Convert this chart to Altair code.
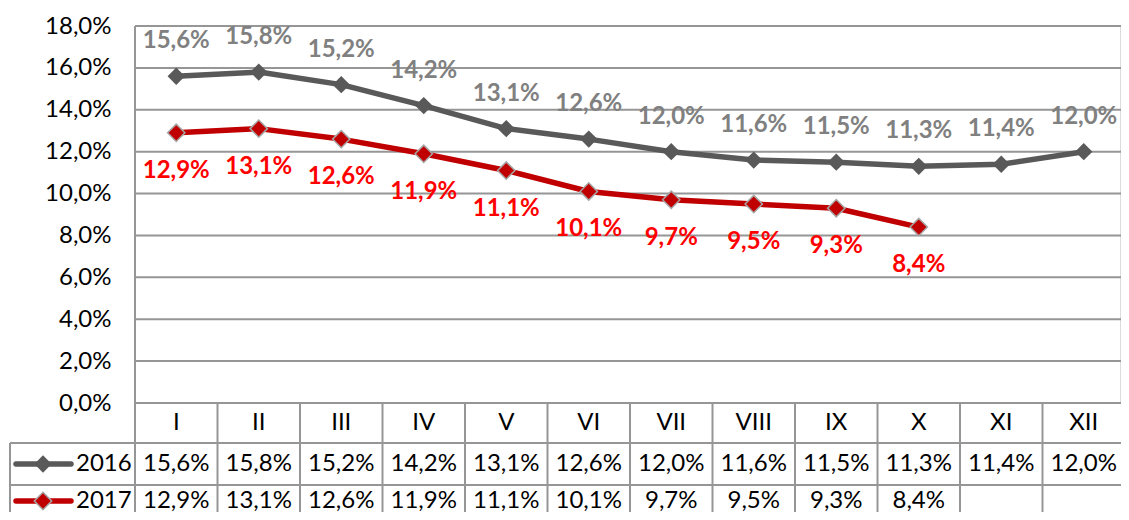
import altair as alt
import pandas as pd

# ---------------- data ----------------
months = ["I", "II", "III", "IV", "V", "VI", "VII", "VIII", "IX", "X", "XI", "XII"]
series = ["2016", "2017"]
values_2016 = [15.6, 15.8, 15.2, 14.2, 13.1, 12.6, 12.0, 11.6, 11.5, 11.3, 11.4, 12.0]
values_2017 = [12.9, 13.1, 12.6, 11.9, 11.1, 10.1, 9.7, 9.5, 9.3, 8.4]
y_ticks = [0, 2, 4, 6, 8, 10, 12, 14, 16, 18]

rows = []
for m, v in zip(months, values_2016):
    rows.append({"month": m, "value": v, "series": "2016"})
for m, v in zip(months, values_2017):
    rows.append({"month": m, "value": v, "series": "2017"})
df = pd.DataFrame(rows)
months_df = pd.DataFrame({"month": months})
ticks_df = pd.DataFrame({"value": y_ticks})

# ---------------- style ----------------
W, H = 985, 377          # visible plot width (svg must fit the window)
XR = 990                 # full x range of the (partly cropped) plot
STEP = XR / 12
FONT = "Lato"
FS = 24
GRID = "#969696"
LINE_COL = {"2016": "#595959", "2017": "#C00000"}
LABEL_COL = {"2016": "#808080", "2017": "#FF0000"}
ROW_Y = {"2016": 438, "2017": 475}
LABEL_DY = {"2016": -35, "2017": 38}
fmt = "replace(format(datum.value, '.1f'), '.', ',') + '%'"

x_enc = alt.X("month:N", sort=months,
              scale=alt.Scale(type="point", padding=0.5, domain=months, range=[0, XR]),
              axis=None)
y_scale = alt.Scale(domain=[0, 18], nice=False, zero=True)
y_enc = alt.Y("value:Q", scale=y_scale,
              axis=alt.Axis(values=y_ticks, labelExpr=fmt, grid=False,
                            domain=False, ticks=False, labelPadding=24,
                            labelFont=FONT, labelFontSize=FS, labelColor="#000000",
                            title=None))

base = alt.Chart(df).transform_calculate(label=fmt)

layers = []

# horizontal gridlines (through the y scale)
layers.append(alt.Chart(ticks_df).mark_rule(color=GRID, strokeWidth=2).encode(
    x=alt.value(0), x2=alt.value(XR + 10), y=y_enc))

# table / frame lines
one = pd.DataFrame({"k": [0]})
layers.append(alt.Chart(one).mark_rule(color=GRID, strokeWidth=2).encode(
    x=alt.value(0), y=alt.value(0), y2=alt.value(520)))
layers.append(alt.Chart(one).mark_rule(color=GRID, strokeWidth=2).encode(
    x=alt.value(-125), y=alt.value(417), y2=alt.value(520)))
for yy in (417, 459):
    layers.append(alt.Chart(one).mark_rule(color=GRID, strokeWidth=2).encode(
        x=alt.value(-125), x2=alt.value(XR + 10), y=alt.value(yy)))
layers.append(alt.Chart(months_df).mark_rule(color=GRID, strokeWidth=2, xOffset=STEP / 2).encode(
    x=x_enc, y=alt.value(H), y2=alt.value(520)))

# header month labels
layers.append(alt.Chart(months_df).mark_text(font=FONT, fontSize=FS, color="#000000",
                                             baseline="middle").encode(
    x=x_enc, y=alt.value(397), text="month:N"))

for s in series:
    sub = base.transform_filter(alt.datum.series == s)
    layers.append(sub.mark_line(color=LINE_COL[s], strokeWidth=5.5, strokeCap="round",
                                strokeJoin="round").encode(x=x_enc, y=y_enc))
    if s == "2016":
        pt = sub.mark_point(shape="diamond", filled=True, size=300, opacity=1,
                            color=LINE_COL[s])
    else:
        pt = sub.mark_point(shape="diamond", filled=True, size=300, opacity=1,
                            fill=LINE_COL[s], stroke="#A6A6A6", strokeWidth=1.5)
    layers.append(pt.encode(x=x_enc, y=y_enc))
    layers.append(sub.mark_text(font=FONT, fontSize=FS, fontWeight="bold",
                                color=LABEL_COL[s], dy=LABEL_DY[s],
                                baseline="middle").encode(x=x_enc, y=y_enc, text="label:N"))
    # table values
    layers.append(sub.mark_text(font=FONT, fontSize=FS, color="#000000",
                                baseline="middle").encode(
        x=x_enc, y=alt.value(ROW_Y[s]), text="label:N"))
    # legend cell
    leg = alt.Chart(pd.DataFrame({"series": [s]}))
    layers.append(leg.mark_rule(color=LINE_COL[s], strokeWidth=5.5, strokeCap="round").encode(
        x=alt.value(-119), x2=alt.value(-64), y=alt.value(ROW_Y[s])))
    if s == "2016":
        lp = leg.mark_point(shape="diamond", filled=True, size=300, opacity=1,
                            color=LINE_COL[s])
    else:
        lp = leg.mark_point(shape="diamond", filled=True, size=300, opacity=1,
                            fill=LINE_COL[s], stroke="#A6A6A6", strokeWidth=1.5)
    layers.append(lp.encode(x=alt.value(-92), y=alt.value(ROW_Y[s])))
    layers.append(leg.mark_text(font=FONT, fontSize=FS, color="#000000", align="left",
                                baseline="middle").encode(
        x=alt.value(-59), y=alt.value(ROW_Y[s]), text="series:N"))

chart = alt.layer(*layers).properties(
    width=W, height=H,
    autosize=alt.AutoSizeParams(type="none"),
    padding={"left": 127, "top": 18, "right": 1, "bottom": 109},
).configure_view(stroke=None).configure(background="white")

chart.save("out.html", embed_options={"renderer": "svg", "actions": False})
